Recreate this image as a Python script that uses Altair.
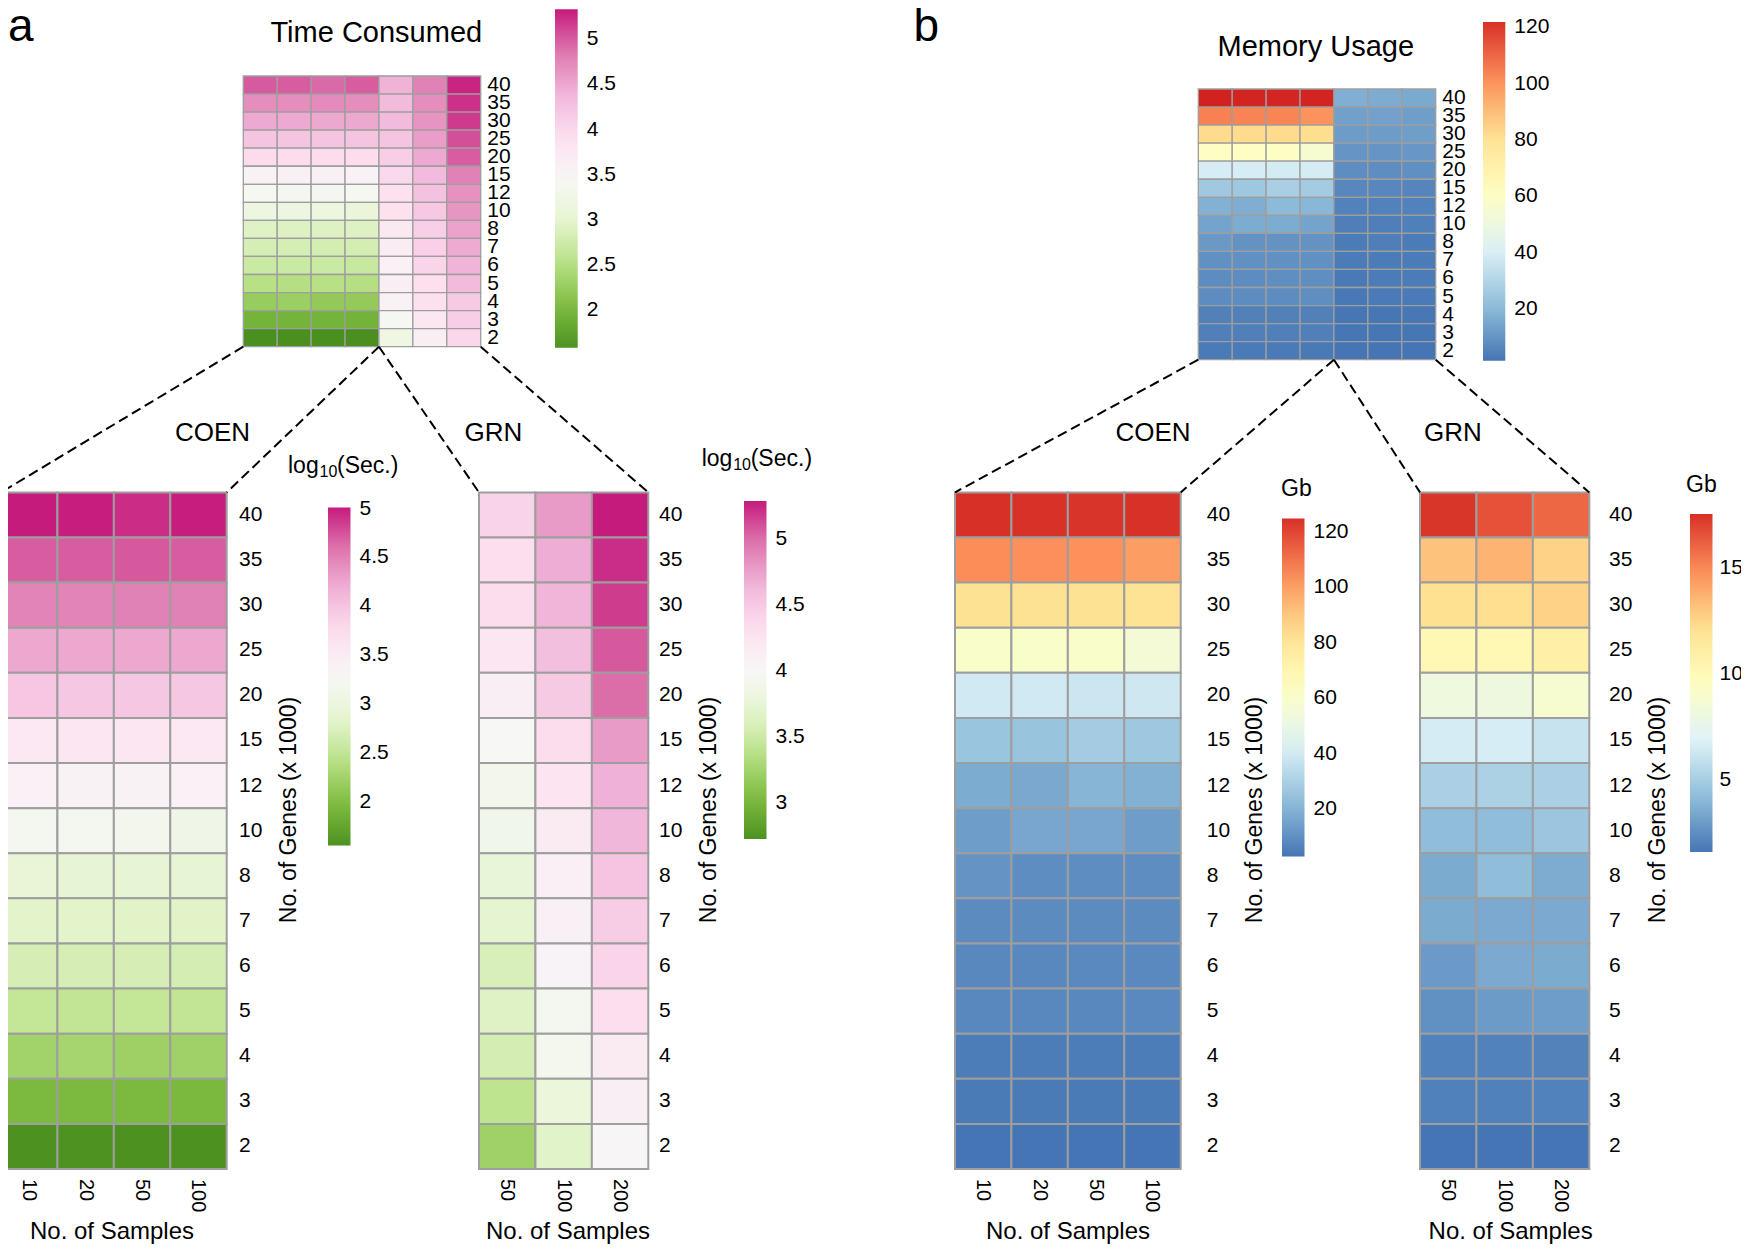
import altair as alt
import numpy as np
import pandas as pd

FONT = "Liberation Sans"

# ---------------- data ----------------
genes = ["40", "35", "30", "25", "20", "15", "12", "10", "8", "7", "6", "5", "4", "3", "2"]
coen_samples = ["10", "20", "50", "100"]
grn_samples = ["50", "100", "200"]

# log10(seconds), rows follow `genes` (top to bottom)
coen_time_10 = [5.01, 4.70, 4.49, 4.24, 3.98, 3.56, 3.39, 3.19, 2.92, 2.82, 2.70, 2.52, 2.25, 1.96, 1.556]
coen_time_20 = [5.00, 4.70, 4.49, 4.24, 3.97, 3.60, 3.38, 3.19, 2.90, 2.82, 2.70, 2.50, 2.28, 1.96, 1.56]
coen_time_50 = [4.93, 4.72, 4.50, 4.24, 3.97, 3.60, 3.38, 3.17, 2.90, 2.80, 2.70, 2.52, 2.22, 1.96, 1.556]
coen_time_100 = [5.00, 4.70, 4.50, 4.24, 3.97, 3.57, 3.39, 3.10, 2.90, 2.80, 2.68, 2.50, 2.23, 1.95, 1.554]
grn_time_50 = [4.42, 4.34, 4.35, 4.24, 4.13, 4.00, 3.91, 3.90, 3.75, 3.69, 3.59, 3.64, 3.56, 3.41, 3.23]
grn_time_100 = [4.78, 4.69, 4.65, 4.58, 4.49, 4.35, 4.26, 4.19, 4.12, 4.10, 4.06, 3.94, 3.93, 3.78, 3.65]
grn_time_200 = [5.284, 5.22, 5.17, 5.07, 5.00, 4.78, 4.67, 4.64, 4.54, 4.48, 4.41, 4.34, 4.17, 4.13, 4.03]

# memory (Gb)
coen_mem_10 = [124.9, 104.5, 83, 60, 39.5, 25.5, 18, 14, 11.5, 9, 8, 8, 5, 4.5, 3]
coen_mem_20 = [124.5, 104, 83, 60, 39.5, 25, 17, 16.5, 9.5, 9, 8, 8, 5, 4.5, 3]
coen_mem_50 = [124, 103.5, 83, 60, 38.5, 28, 20.5, 16.5, 9.5, 9, 8.5, 8, 5, 4.5, 3]
coen_mem_100 = [124.5, 100.5, 82, 56, 39, 26.5, 19.5, 14, 9.5, 9, 8.5, 8.5, 5, 4.5, 2.9]
grn_mem_50 = [17.4, 13.2, 12.2, 10.3, 8.2, 6.6, 5.15, 4.2, 3.55, 3.55, 2.95, 2.6, 2.07, 2.05, 1.62]
grn_mem_100 = [16.6, 13.7, 12.25, 10.25, 8.15, 6.65, 5.2, 4.2, 4.2, 3.5, 3.5, 3.0, 2.07, 2.05, 1.62]
grn_mem_200 = [16.0, 12.7, 12.7, 10.9, 8.8, 6.1, 5.15, 4.65, 3.6, 3.5, 3.55, 3.05, 2.1, 2.07, 1.63]

# legend ticks and colour-bar extents
time_ticks = [2, 2.5, 3, 3.5, 4, 4.5, 5]
grn_time_ticks = [3, 3.5, 4, 4.5, 5]
mem_ticks = [20, 40, 60, 80, 100, 120]
grn_mem_ticks = [5, 10, 15]

dom_top_time = [1.582, 5.333]
dom_top_mem = [1.67, 121.9]
dom_coen_time = [1.554, 5.01]
dom_grn_time = [2.727, 5.284]
dom_coen_mem = [2.9, 124.9]
dom_grn_mem = [1.62, 17.57]

PIYG = ["#4d9221", "#7fbc41", "#b8e186", "#e6f5d0", "#f7f7f7",
        "#fde0ef", "#f1b6da", "#de77ae", "#c51b7d"]
RDYLBU = ["#4575b4", "#91bfdb", "#e0f3f8", "#ffffbf", "#fee090", "#fc8d59", "#d73027"]


def long_df(samples, cols, prefix=""):
    rows = []
    for s, vals in zip(samples, cols):
        for g, v in zip(genes, vals):
            rows.append({"sample": prefix + s, "gene": g, "value": v})
    return pd.DataFrame(rows)


coen_time_df = long_df(coen_samples, [coen_time_10, coen_time_20, coen_time_50, coen_time_100])
grn_time_df = long_df(grn_samples, [grn_time_50, grn_time_100, grn_time_200])
coen_mem_df = long_df(coen_samples, [coen_mem_10, coen_mem_20, coen_mem_50, coen_mem_100])
grn_mem_df = long_df(grn_samples, [grn_mem_50, grn_mem_100, grn_mem_200])
top_time_df = pd.concat([long_df(coen_samples, [coen_time_10, coen_time_20, coen_time_50, coen_time_100], "COEN "),
                         long_df(grn_samples, [grn_time_50, grn_time_100, grn_time_200], "GRN ")])
top_mem_df = pd.concat([long_df(coen_samples, [coen_mem_10, coen_mem_20, coen_mem_50, coen_mem_100], "COEN "),
                        long_df(grn_samples, [grn_mem_50, grn_mem_100, grn_mem_200], "GRN ")])
top_cols = ["COEN " + s for s in coen_samples] + ["GRN " + s for s in grn_samples]

# ---------------- layout (chart pixel space) ----------------
TT = (235.3, 472.7, 68.0, 338.7)     # top time heatmap x0, x1, y0, y1
TM = (1190.3, 1427.7, 81.0, 351.7)   # top memory heatmap
BY0, BY1 = 484.4, 1161.0             # bottom heatmaps vertical extent
CT = (-7.0, 218.7)
GT = (471.0, 640.3)
CM = (947.0, 1172.7)
GM = (1412.0, 1581.3)
XLAB_Y = 1171.0
SAMPLES_Y = 1231.0
GLEN = 338.0

one = pd.DataFrame({"k": [0]})


def piecewise(dom, rng):
    return [float(v) for v in np.linspace(dom[0], dom[1], len(rng))]


def make_legend(x, y, values, length=GLEN, thick=22.5, offset=9):
    return alt.Legend(orient="none", legendX=x, legendY=y, direction="vertical",
                      gradientLength=length, gradientThickness=thick, title=None,
                      values=values, format="~f", labelFont=FONT, labelFontSize=21,
                      labelColor="black", labelOffset=offset, labelOverlap=False,
                      gradientStrokeWidth=0, padding=0)


def band(dom, a, b):
    return alt.Scale(domain=dom, range=[a, b], paddingInner=0, paddingOuter=0)


def heat(df, xdom, box, cdom, crange, legend, sw):
    x0, x1, y0, y1 = box
    return alt.Chart(df).mark_rect(stroke="#9e9e9e", strokeWidth=sw).encode(
        x=alt.X("sample:N", scale=band(xdom, x0, x1), axis=None, sort=None),
        y=alt.Y("gene:N", scale=band(genes, y0, y1), axis=None, sort=None),
        color=alt.Color("value:Q",
                        scale=alt.Scale(domain=piecewise(cdom, crange), range=crange, interpolate="rgb"),
                        legend=legend),
    )


def ylabels(xpos, y0, y1, size=21):
    return alt.Chart(pd.DataFrame({"gene": genes})).mark_text(
        align="left", baseline="middle", font=FONT, fontSize=size, color="black").encode(
        y=alt.Y("gene:N", scale=band(genes, y0, y1), axis=None, sort=None),
        x=alt.value(xpos), text="gene:N")


def xlabels(samples, x0, x1, size=20):
    return alt.Chart(pd.DataFrame({"sample": samples})).mark_text(
        align="left", baseline="middle", angle=90, font=FONT, fontSize=size, color="black").encode(
        x=alt.X("sample:N", scale=band(samples, x0, x1), axis=None, sort=None),
        y=alt.value(XLAB_Y), text="sample:N")


def txt(t, x, y, size, align="center", baseline="alphabetic", angle=0):
    kw = dict(text=t, font=FONT, fontSize=size, color="black", align=align, baseline=baseline)
    if angle:
        kw["angle"] = angle
    return alt.Chart(one).mark_text(**kw).encode(x=alt.value(x), y=alt.value(y))


def log_title(x, y):
    return [txt("log", x, y, 23, align="left"),
            txt("10", x + 31.5, y + 4, 16, align="left"),
            txt("(Sec.)", x + 49.0, y, 23, align="left")]


layers = []
# heatmaps
layers.append(heat(top_time_df, top_cols, TT, dom_top_time, PIYG, make_legend(547, 1.3, time_ticks, 338.4, 22.7), 1.3))
layers.append(heat(top_mem_df, top_cols, TM, dom_top_mem, RDYLBU, make_legend(1475, 14, mem_ticks, 338.7, 22.3), 1.3))
layers.append(heat(coen_time_df, coen_samples, (CT[0], CT[1], BY0, BY1), dom_coen_time, PIYG,
                   make_legend(320, 499.6, time_ticks), 2))
layers.append(heat(grn_time_df, grn_samples, (GT[0], GT[1], BY0, BY1), dom_grn_time, PIYG,
                   make_legend(736, 493, grn_time_ticks), 2))
layers.append(heat(coen_mem_df, coen_samples, (CM[0], CM[1], BY0, BY1), dom_coen_mem, RDYLBU,
                   make_legend(1274, 510.5, mem_ticks), 2))
layers.append(heat(grn_mem_df, grn_samples, (GM[0], GM[1], BY0, BY1), dom_grn_mem, RDYLBU,
                   make_legend(1682, 506, grn_mem_ticks, offset=7), 2))

# row labels
layers.append(ylabels(TT[1] + 6.6, TT[2], TT[3]))
layers.append(ylabels(TM[1] + 6.6, TM[2], TM[3]))
layers.append(ylabels(231, BY0, BY1))
layers.append(ylabels(651, BY0, BY1))
layers.append(ylabels(1198.7, BY0, BY1))
layers.append(ylabels(1601, BY0, BY1))

# column labels
layers.append(xlabels(coen_samples, *CT))
layers.append(xlabels(grn_samples, *GT))
layers.append(xlabels(coen_samples, *CM))
layers.append(xlabels(grn_samples, *GM))

# connectors
split_t = TT[0] + 4 / 7 * (TT[1] - TT[0])
split_m = TM[0] + 4 / 7 * (TM[1] - TM[0])
conn = pd.DataFrame({
    "x": [TT[0], split_t, split_t, TT[1], TM[0], split_m, split_m, TM[1]],
    "y": [TT[3]] * 4 + [TM[3]] * 4,
    "x2": [CT[0], CT[1], GT[0], GT[1], CM[0], CM[1], GM[0], GM[1]],
    "y2": [BY0] * 8,
})
layers.append(alt.Chart(conn).mark_rule(color="black", strokeWidth=2, strokeDash=[10, 5]).encode(
    x=alt.X("x:Q", scale=None, axis=None), y=alt.Y("y:Q", scale=None, axis=None),
    x2="x2:Q", y2="y2:Q"))

# texts
layers.append(txt("a", 0, 33, 46, align="left"))
layers.append(txt("b", 905.6, 33, 46, align="left"))
layers.append(txt("Time Consumed", 368.3, 34.3, 29))
layers.append(txt("Memory Usage", 1307.8, 47.7, 29))
for t, x in [("COEN", 204.5), ("GRN", 485.5), ("COEN", 1145), ("GRN", 1445)]:
    layers.append(txt(t, x, 433, 26))
for x in [281, 701, 1247, 1650]:
    layers.append(txt("No. of Genes (x 1000)", x, 802, 23, baseline="middle", angle=270))
for x in [104, 560, 1060, 1502.6]:
    layers.append(txt("No. of Samples", x, SAMPLES_Y, 24))
layers += log_title(280, 465)
layers += log_title(693.7, 458)
layers.append(txt("Gb", 1273, 488, 23, align="left"))
layers.append(txt("Gb", 1678, 484, 23, align="left"))

chart = alt.layer(*layers).resolve_scale(
    x="independent", y="independent", color="independent"
).properties(
    width=1733, height=1237, padding=0,
    autosize=alt.AutoSizeParams(type="none"),
).configure(
    font=FONT
).configure_view(
    stroke=None, strokeWidth=0
)

chart.save("out.html", embed_options={"renderer": "svg", "actions": False})
